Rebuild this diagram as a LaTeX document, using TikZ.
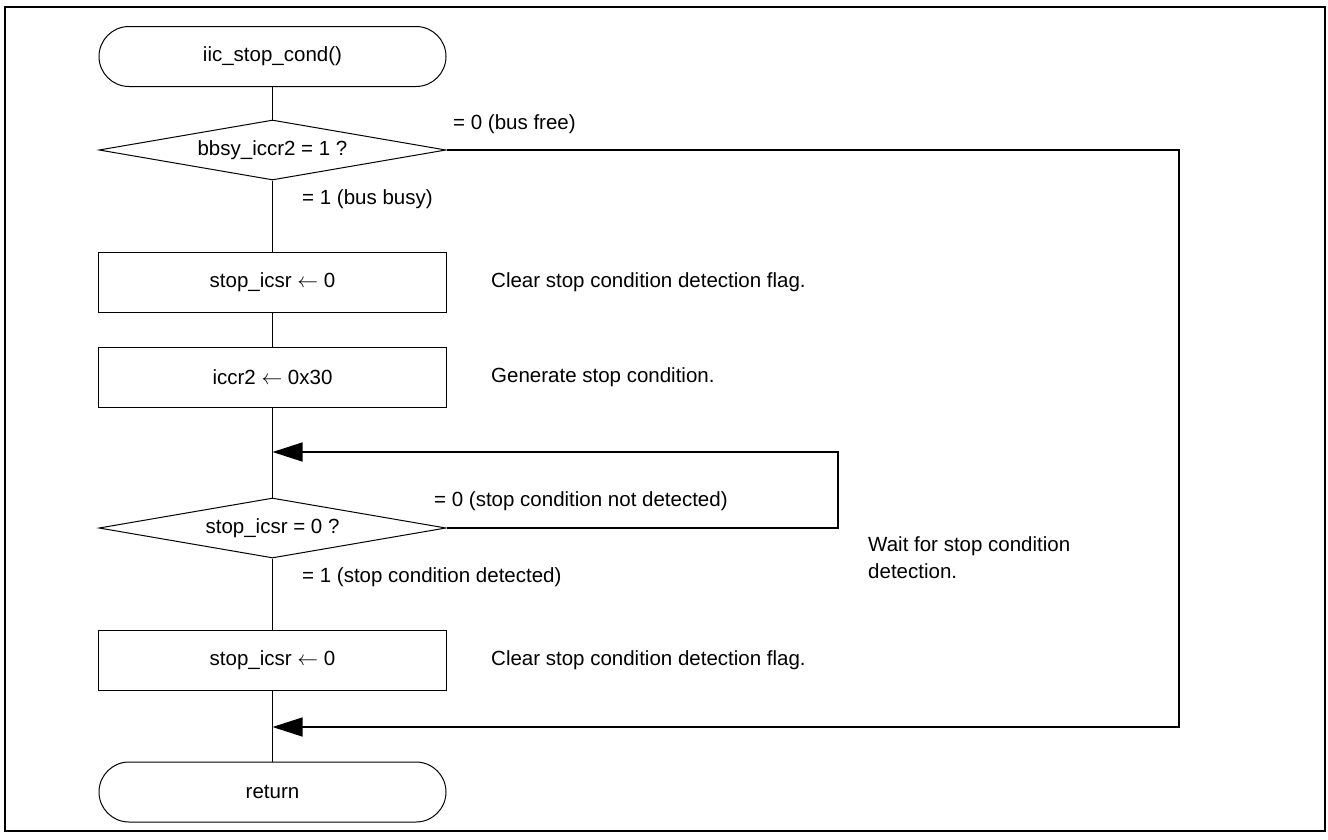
\documentclass[tikz,border=0pt]{standalone}
\usepackage{fontspec}
\setmainfont{Liberation Sans}
\usetikzlibrary{shapes.geometric,arrows.meta}

\newcommand{\assign}{\ensuremath{\leftarrow}}

\tikzset{
  every node/.style={font=\fontsize{20.5}{27}\selectfont, inner sep=0pt},
  terminal/.style={draw, line width=1pt, rectangle, rounded corners=30pt,
                   minimum width=347pt, minimum height=60pt},
  process/.style={draw, line width=1pt, rectangle,
                  minimum width=348pt, minimum height=60pt},
  decision/.style={draw, line width=1pt, diamond, shape aspect=5.78,
                   minimum width=347pt, minimum height=60pt},
  flow/.style={line width=1.3pt},
  back/.style={line width=1.3pt, -{Triangle[length=30pt,width=19pt]}},
  note/.style={anchor=west, align=left}
}

\begin{document}
\begin{tikzpicture}[x=1pt,y=-1pt]
\useasboundingbox (0,0) rectangle (1328,839);
\draw[line width=2pt] (5,7) rectangle (1325,831);

% main column
\node[terminal] (start) at (272.5,56.5) {iic\_stop\_cond()};
\node[decision] (d1) at (272.5,150) {bbsy\_iccr2 = 1 ?};
\node[process] (b1) at (272.5,282) {stop\_icsr \assign{} 0};
\node[process] (b2) at (272.5,377) {iccr2 \assign{} 0x30};
\node[decision] (d2) at (272.5,528) {stop\_icsr = 0 ?};
\node[process] (b3) at (272.5,660) {stop\_icsr \assign{} 0};
\node[terminal] (ret) at (272.5,792) {return};

% junction points and corners of the return paths
\coordinate (loopR) at (838,452);
\coordinate (j1) at (272.5,452);
\coordinate (skipR) at (1179,727);
\coordinate (j2) at (272.5,727);

\draw[flow] (start) -- (d1);
\draw[flow] (d1) -- (b1);
\draw[flow] (b1) -- (b2);
\draw[flow] (b2) -- (d2);
\draw[flow] (d2) -- (b3);
\draw[flow] (b3) -- (ret);

\draw[back] (d2.east) -| (loopR) -- (j1);
\draw[back] (d1.east) -| (skipR) -- (j2);

% branch labels
\node[note] (l1) at (453,124) {= 0 (bus free)};
\node[note] (l2) at (302,199) {= 1 (bus busy)};
\node[note] (l3) at (434,501) {= 0 (stop condition not detected)};
\node[note] (l4) at (302,577) {= 1 (stop condition detected)};

% comments
\node[note] (c1) at (491,282) {Clear stop condition detection flag.};
\node[note] (c2) at (491,377) {Generate stop condition.};
\node[note] (c3) at (868,558) {Wait for stop condition\\detection.};
\node[note] (c4) at (491,660) {Clear stop condition detection flag.};
\end{tikzpicture}
\end{document}
